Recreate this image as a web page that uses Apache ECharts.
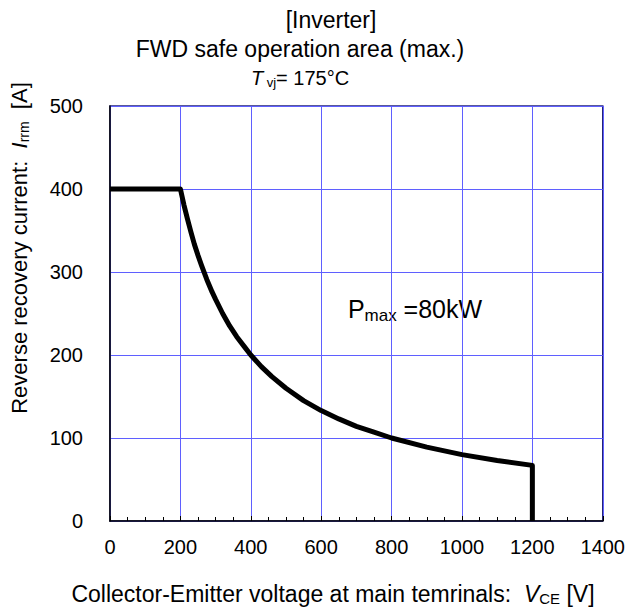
<!DOCTYPE html>
<html>
<head>
<meta charset="utf-8">
<script src="https://cdn.jsdelivr.net/npm/echarts@6/dist/echarts.min.js"></script>
<style>
html,body{margin:0;padding:0;background:#fff;}
#chart{width:628px;height:612px;}
</style>
</head>
<body>
<div id="chart"></div>
<script>
// Data
const voltage = [0, 200, 210, 220, 230, 240, 250, 260, 275, 290, 300, 320, 340, 360, 380, 400, 430, 460, 500, 550, 600, 650, 700, 750, 800, 900, 1000, 1100, 1200, 1200];
const current = [400, 400, 381, 364, 348, 333, 320, 308, 291, 276, 267, 250, 235, 222, 211, 200, 186, 174, 160, 145, 133, 123, 114, 107, 100, 89, 80, 73, 67, 0];
const xTicks = [0, 200, 400, 600, 800, 1000, 1200, 1400];
const yTicks = [0, 100, 200, 300, 400, 500];

const font = '"Liberation Sans", Arial, sans-serif';
const chart = echarts.init(document.getElementById('chart'), null, {renderer: 'svg'});
const gridBlue = '#5f5fff';

chart.setOption({
  backgroundColor: '#fff',
  animation: false,
  grid: {left: 110, top: 106, width: 496, height: 415, show: true, borderColor: '#22227a', borderWidth: 1.5, containLabel: false},
  xAxis: {
    type: 'value', min: xTicks[0], max: xTicks[xTicks.length - 1], interval: 200,
    axisLine: {show: true, onZero: false, lineStyle: {color: '#000', width: 1.5}},
    axisTick: {show: true, inside: true, length: 5, lineStyle: {color: '#000'}},
    minorTick: {show: true, splitNumber: 4, length: 4, lineStyle: {color: '#000'}},
    splitLine: {show: true, lineStyle: {color: gridBlue, width: 1}},
    axisLabel: {color: '#000', fontFamily: font, fontSize: 20, margin: 16, formatter: v => String(v)}
  },
  yAxis: {
    type: 'value', min: yTicks[0], max: yTicks[yTicks.length - 1], interval: 100,
    axisLine: {show: true, onZero: false, lineStyle: {color: '#000', width: 1.5}},
    axisTick: {show: false},
    splitLine: {show: true, lineStyle: {color: gridBlue, width: 1}},
    axisLabel: {color: '#000', fontFamily: font, fontSize: 20, margin: 27, formatter: v => String(v)}
  },
  series: [{
    type: 'line',
    data: voltage.map((v, i) => [v, current[i]]),
    showSymbol: false,
    symbol: 'none',
    lineStyle: {color: '#000', width: 5, join: 'round', cap: 'butt'},
    z: 5
  }],
  graphic: [
    {type: 'text', x: 331, y: 20, style: {text: '[Inverter]', font: '23px ' + font, fill: '#000', textAlign: 'center', textVerticalAlign: 'middle'}},
    {type: 'text', x: 300, y: 49, style: {text: 'FWD safe operation area (max.)', font: '23px ' + font, fill: '#000', textAlign: 'center', textVerticalAlign: 'middle'}},
    {type: 'text', x: 300, y: 78, style: {
      text: '{i|T}{s| vj}{n|= 175°C}', textAlign: 'center', textVerticalAlign: 'middle', fill: '#000',
      rich: {
        i: {fontFamily: font, fontSize: 20, fontStyle: 'italic'},
        s: {fontFamily: font, fontSize: 13, padding: [8, 0, 0, 0]},
        n: {fontFamily: font, fontSize: 20}
      }
    }},
    {type: 'text', x: 415, y: 309, style: {
      text: '{p|P}{s|max}{p| =80kW}', textAlign: 'center', textVerticalAlign: 'middle', fill: '#000',
      rich: {
        p: {fontFamily: font, fontSize: 25},
        s: {fontFamily: font, fontSize: 17, padding: [13, 0, 0, 0]}
      }
    }},
    {type: 'text', x: 19, y: 248, rotation: Math.PI / 2, style: {
      text: '{n|Reverse recovery current:  }{i|I}{s|rrm}{n|  [A]}', textAlign: 'center', textVerticalAlign: 'middle', fill: '#000',
      rich: {
        n: {fontFamily: font, fontSize: 22},
        i: {fontFamily: font, fontSize: 22, fontStyle: 'italic'},
        s: {fontFamily: font, fontSize: 14, padding: [9, 0, 0, 0]}
      }
    }},
    {type: 'text', x: 333, y: 594, style: {
      text: '{n|Collector-Emitter voltage at main temrinals:  }{i|V}{s|CE}{n| [V]}', textAlign: 'center', textVerticalAlign: 'middle', fill: '#000',
      rich: {
        n: {fontFamily: font, fontSize: 23},
        i: {fontFamily: font, fontSize: 23, fontStyle: 'italic'},
        s: {fontFamily: font, fontSize: 15, padding: [9, 0, 0, 0]}
      }
    }}
  ]
});
</script>
</body>
</html>
